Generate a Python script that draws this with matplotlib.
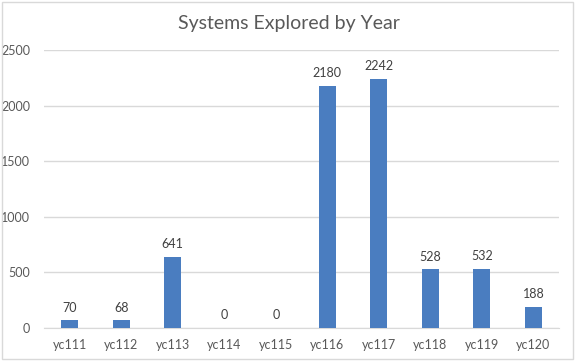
import matplotlib.pyplot as plt
from matplotlib.patches import Rectangle

years = ['yc111', 'yc112', 'yc113', 'yc114', 'yc115',
         'yc116', 'yc117', 'yc118', 'yc119', 'yc120']
systems = [70, 68, 641, 0, 0, 2180, 2242, 528, 532, 188]
yticks = [0, 500, 1000, 1500, 2000, 2500]

plt.rcParams['font.family'] = ['Lato', 'DejaVu Sans']

fig = plt.figure(figsize=(5.77, 3.61), dpi=100)
ax = fig.add_axes([0.0763, 0.0914, 0.8927, 0.7701])

x = range(len(years))
bars = ax.bar(x, systems, width=0.33, color='#4A7DC0', zorder=3)
for b, v in zip(bars, systems):
    ax.text(b.get_x() + b.get_width() / 2, v + 60, str(v),
            ha='center', va='bottom', fontsize=9, color='#404040')

ax.set_xlim(-0.5, len(years) - 0.5)
ax.set_ylim(0, 2500)
ax.set_yticks(yticks)
ax.set_xticks(list(x))
ax.set_xticklabels(years)
ax.tick_params(length=0, labelsize=9, colors='#595959')
ax.tick_params(axis='x', pad=8)
ax.tick_params(axis='y', pad=10)
ax.grid(axis='y', color='#D9D9D9', linewidth=1, zorder=0)
for side in ['top', 'right', 'left']:
    ax.spines[side].set_visible(False)
ax.spines['bottom'].set_color('#D9D9D9')

fig.text(0.5, 0.935, 'Systems Explored by Year', ha='center', va='center',
         fontsize=14, color='#595959')
fig.patches.append(Rectangle((0.003, 0.005), 0.99, 0.99, transform=fig.transFigure,
                             fill=False, edgecolor='#D9D9D9', linewidth=1))

fig.savefig('out.png', dpi=100)
